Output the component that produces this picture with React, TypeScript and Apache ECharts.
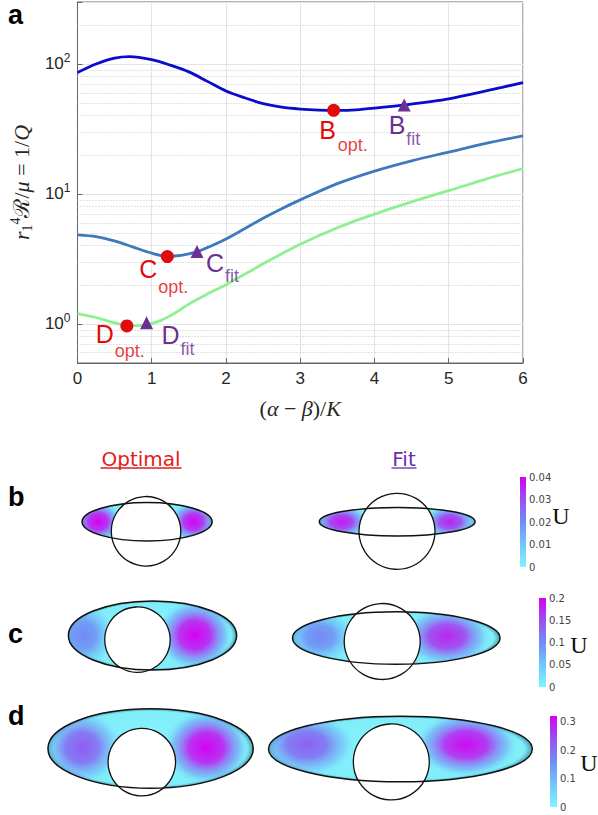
import React, { useEffect, useRef } from "react";
import * as echarts from "echarts";

// ---------------- panel a : data ----------------
const darkX = [0, 0.25, 0.5, 0.7, 1, 1.25, 1.5, 1.75, 2, 2.25, 2.5, 2.75, 3, 3.25, 3.5, 3.75, 4, 4.4, 5, 5.5, 6];
const darkY = [86, 100, 111, 114, 108, 98, 87, 73.5, 62, 55, 49.5, 46.5, 45, 44.2, 44, 44.4, 45.7, 48.4, 54, 62, 72];
const midX = [0, 0.25, 0.5, 0.75, 1, 1.2, 1.4, 1.6, 1.8, 2, 2.25, 2.5, 2.75, 3, 3.5, 4, 4.5, 5, 5.5, 6];
const midY = [4.85, 4.7, 4.35, 3.9, 3.5, 3.32, 3.37, 3.58, 3.98, 4.5, 5.4, 6.5, 7.7, 9, 12, 15, 18, 21, 24.5, 28];
const lightX = [0, 0.25, 0.5, 0.7, 0.9, 1.1, 1.3, 1.5, 1.75, 2, 2.5, 3, 3.5, 4, 4.5, 5, 5.5, 6];
const lightY = [1.2, 1.12, 1.02, 0.97, 0.98, 1.05, 1.2, 1.42, 1.7, 2.0, 2.9, 4.1, 5.5, 7.0, 8.7, 10.6, 13, 15.7];

const pointLetters = ["B", "C", "D"];
const optX = [3.45, 1.21, 0.665];
const optY = [44, 3.3, 0.965];
const fitX = [4.4, 1.61, 0.93];
const fitY = [48.4, 3.6, 1.02];
const optSub = "opt.";
const fitSub = "fit";
const minorGridValues = [0.6, 0.7, 0.8, 0.9, 2, 3, 4, 5, 6, 7, 8, 9, 20, 30, 40, 50, 60, 70, 80, 90, 200];

// ---------------- panels b-d : data (units of circle radius) ----------------
const rowLetters = ["b", "c", "d"];
const columnTitles = ["Optimal", "Fit"];
const circleRadius = 1;
// ellipse: [centerX, centerY, semiAxisX, semiAxisY]
const optEllipse = [
  [0.03, 0.25, 1.87, 0.505],
  [0.46, 0.11, 2.57, 0.91],
  [0.26, 0.41, 3.04, 1.2],
];
const fitEllipse = [
  [0.005, 0.253, 2.05, 0.376],
  [0.37, 0.09, 2.73, 0.69],
  [0.24, 0.39, 3.47, 0.99],
];
// lobes: [x, y, spreadX, spreadY, U / Umax]
const optLobes = [
  [[-1.38, 0.25, 0.7, 0.55, 1.0], [1.36, 0.25, 0.7, 0.55, 0.98]],
  [[-1.63, 0.12, 0.95, 0.9, 0.52], [1.75, 0.12, 1.2, 0.95, 1.0]],
  [[-1.77, 0.44, 1.2, 1.15, 0.7], [1.91, 0.44, 1.3, 1.15, 1.0]],
];
const fitLobes = [
  [[-1.46, 0.25, 0.75, 0.45, 0.92], [1.39, 0.25, 0.72, 0.45, 0.88]],
  [[-1.64, 0.13, 0.95, 0.75, 0.52], [1.7, 0.13, 1.2, 0.8, 0.88]],
  [[-2.22, 0.52, 1.3, 1.0, 0.68], [1.97, 0.52, 1.4, 1.0, 0.97]],
];
const colorbarMax = [0.04, 0.2, 0.32];
const colorbarStep = [0.01, 0.05, 0.1];

// ---------------- layout & styles ----------------
const S = 38; // px per unit in panels
const panelCenters = [
  [132.5, 531.3], [397, 531.3],
  [115.3, 639.7], [382.2, 641.5],
  [124, 770], [391.3, 769.7],
];
const colorbarBoxes = [
  [520, 477, 6, 90],
  [539, 598, 7, 89],
  [550, 716, 7, 91],
];
const uLabelPos = [[561, 516], [579, 645], [589, 763]];
const rowLetterPos = [[8, 497], [8, 634], [8, 716]];
const titlePos = [[141, 459], [404, 459]];
const titleHalfWidth = [40.5, 12.5];
const titleColors = ["#e21b1b", "#6a2fa6"];

const optLetterOffset = [[-6, 20], [-19, 12], [-22, 8]];
const optSubOffset = [[19, 35], [6, 30], [3, 25]];
const fitLetterOffset = [[-7, 20], [18, 11], [24, 12]];
const fitSubOffset = [[9, 34], [35, 24], [41, 26]];

const RED = "#e00b0b";
const PURPLE = "#6c2f93";
const SANS = '"Liberation Sans", Arial, sans-serif';
const SERIF = '"Liberation Serif", "DejaVu Serif", serif';

const cmapStops: [number, number[]][] = [
  [0, [128, 244, 255]],
  [0.25, [112, 200, 250]],
  [0.5, [112, 142, 244]],
  [0.75, [152, 80, 240]],
  [1, [214, 0, 242]],
];
function cmap(t: number): number[] {
  t = Math.max(0, Math.min(1, t));
  for (let i = 1; i < cmapStops.length; i++) {
    const [t1, c1] = cmapStops[i];
    const [t0, c0] = cmapStops[i - 1];
    if (t <= t1) {
      const f = (t - t0) / (t1 - t0);
      return c0.map((v, k) => Math.round(v + (c1[k] - v) * f));
    }
  }
  return cmapStops[cmapStops.length - 1][1];
}
const rgba = (c: number[], a: number) => `rgba(${c[0]},${c[1]},${c[2]},${a})`;

function makePanelRender(ell: number[], lobes: number[][]) {
  return (_params: any, api: any) => {
    const c = api.coord([0, 0]);
    const r = api.size([circleRadius, circleRadius])[0];
    const ec = api.coord([ell[0], ell[1]]);
    const es = api.size([ell[2], ell[3]]);
    const ellShape = { cx: ec[0], cy: ec[1], rx: es[0], ry: es[1] };
    const lobeEls = lobes.map((l) => {
      const p = api.coord([l[0], l[1]]);
      const s = api.size([l[2], l[3]]);
      const I = l[4];
      return {
        type: "ellipse",
        shape: { cx: p[0], cy: p[1], rx: s[0], ry: s[1] },
        style: {
          fill: {
            type: "radial", x: 0.5, y: 0.5, r: 0.5,
            colorStops: [
              { offset: 0, color: rgba(cmap(I), 1) },
              { offset: 0.4, color: rgba(cmap(I * 0.9), 0.9) },
              { offset: 0.75, color: rgba(cmap(I * 0.5), 0.5) },
              { offset: 1, color: rgba(cmap(0), 0) },
            ],
          },
        },
      };
    });
    return {
      type: "group",
      children: [
        {
          type: "ellipse",
          shape: ellShape,
          style: {
            fill: {
              type: "radial", x: 0.5, y: 0.5, r: 0.5,
              colorStops: [
                { offset: 0, color: "#86f2fc" },
                { offset: 0.94, color: "#80eef9" },
                { offset: 1, color: "#4a9fb2" },
              ],
            },
          },
        },
        {
          type: "group",
          clipPath: { type: "ellipse", shape: { ...ellShape } },
          children: lobeEls,
        },
        {
          type: "circle",
          shape: { cx: c[0], cy: c[1], r },
          style: { fill: "#ffffff", stroke: "#111", lineWidth: 1.3 },
        },
        {
          type: "ellipse",
          shape: ellShape,
          style: { fill: "none", stroke: "#111", lineWidth: 1.5 },
        },
      ],
    };
  };
}

function buildOption() {
  const grids: any[] = [
    { left: 73, top: 2, width: 450, height: 361, show: true, borderColor: "#666", borderWidth: 1, backgroundColor: "rgba(0,0,0,0)" },
  ];
  const xAxes: any[] = [
    {
      type: "value", gridIndex: 0, min: 0, max: 6, interval: 1,
      axisLine: { show: true, lineStyle: { color: "#666" } },
      axisTick: { show: true, inside: true, length: 5, lineStyle: { color: "#666" } },
      axisLabel: { fontSize: 17, fontFamily: SANS, color: "#262626", margin: 7 },
      splitLine: { show: true, lineStyle: { color: "#e4e4e4", width: 1 } },
      name: "{p|(}{i|α}{p| − }{i|β}{p|)/}{i|K}",
      nameLocation: "middle",
      nameGap: 34,
      nameTextStyle: {
        fontSize: 22, fontFamily: SERIF, color: "#262626",
        rich: {
          p: { fontSize: 22, fontFamily: SERIF, color: "#262626" },
          i: { fontSize: 22, fontFamily: SERIF, fontStyle: "italic", color: "#262626" },
        },
      },
    },
  ];
  const yAxes: any[] = [
    {
      type: "log", logBase: 10, gridIndex: 0, min: 0.5, max: 300,
      axisLine: { show: true, lineStyle: { color: "#666" } },
      axisTick: { show: true, inside: true, length: 5, lineStyle: { color: "#666" } },
      axisLabel: {
        margin: 7,
        formatter: (v: number) => {
          const k = Math.log10(v);
          if (Math.abs(k - Math.round(k)) > 1e-6) return "";
          return `{b|10}{s|${Math.round(k)}}`;
        },
        rich: {
          b: { fontSize: 17, fontFamily: SANS, color: "#262626", lineHeight: 20 },
          s: { fontSize: 12, fontFamily: SANS, color: "#262626", lineHeight: 12, padding: [0, 0, 12, 0] },
        },
      },
      splitLine: { show: true, lineStyle: { color: "#e4e4e4", width: 1 } },
      name: "{i|r}{sub|1}{sup|4}{n|ℛ/}{i|μ}{n| = 1/}{i|Q}",
      nameLocation: "middle",
      nameRotate: 90,
      nameGap: 40,
      nameTextStyle: {
        fontSize: 22, fontFamily: SERIF, color: "#262626",
        rich: {
          i: { fontSize: 22, fontFamily: SERIF, fontStyle: "italic", color: "#262626", lineHeight: 26 },
          n: { fontSize: 22, fontFamily: SERIF, color: "#262626", lineHeight: 26 },
          sub: { fontSize: 14, fontFamily: SERIF, color: "#262626", lineHeight: 14, padding: [12, 0, 0, 0] },
          sup: { fontSize: 14, fontFamily: SERIF, color: "#262626", lineHeight: 14, padding: [0, 0, 12, 0] },
        },
      },
    },
  ];

  const series: any[] = [
    {
      type: "line", xAxisIndex: 0, yAxisIndex: 0, smooth: 0.3, symbol: "none",
      data: darkX.map((x, i) => [x, darkY[i]]),
      lineStyle: { color: "#0b0bcc", width: 2.8 },
      markLine: {
        silent: true, symbol: "none", label: { show: false },
        lineStyle: { color: "#c4c4c4", width: 1, type: [1, 2] },
        data: minorGridValues.map((v) => ({ yAxis: v })),
        z: 1,
      },
      z: 3,
    },
    {
      type: "line", xAxisIndex: 0, yAxisIndex: 0, smooth: 0.3, symbol: "none",
      data: midX.map((x, i) => [x, midY[i]]),
      lineStyle: { color: "#3f79bd", width: 2.8 }, z: 3,
    },
    {
      type: "line", xAxisIndex: 0, yAxisIndex: 0, smooth: 0.3, symbol: "none",
      data: lightX.map((x, i) => [x, lightY[i]]),
      lineStyle: { color: "#8ff08f", width: 2.8 }, z: 3,
    },
    {
      type: "scatter", xAxisIndex: 0, yAxisIndex: 0, symbol: "circle", symbolSize: 13,
      itemStyle: { color: RED, opacity: 1 }, z: 5,
      label: { show: true, position: "inside", fontSize: 25, fontFamily: SANS, color: RED, align: "center", verticalAlign: "middle" },
      data: optX.map((x, i) => ({ value: [x, optY[i]], label: { formatter: pointLetters[i], offset: optLetterOffset[i] } })),
    },
    {
      type: "scatter", xAxisIndex: 0, yAxisIndex: 0, symbol: "triangle", symbolSize: 13,
      itemStyle: { color: PURPLE, opacity: 1 }, z: 5,
      label: { show: true, position: "inside", fontSize: 25, fontFamily: SANS, color: PURPLE, align: "center", verticalAlign: "middle" },
      data: fitX.map((x, i) => ({ value: [x, fitY[i]], label: { formatter: pointLetters[i], offset: fitLetterOffset[i] } })),
    },
    {
      type: "scatter", xAxisIndex: 0, yAxisIndex: 0, symbolSize: 1,
      itemStyle: { color: "rgba(0,0,0,0)" }, z: 5,
      label: { show: true, position: "inside", fontSize: 18, fontFamily: SANS, color: RED, align: "center", verticalAlign: "middle" },
      data: optX.map((x, i) => ({ value: [x, optY[i]], label: { formatter: optSub, offset: optSubOffset[i] } })),
    },
    {
      type: "scatter", xAxisIndex: 0, yAxisIndex: 0, symbolSize: 1,
      itemStyle: { color: "rgba(0,0,0,0)" }, z: 5,
      label: { show: true, position: "inside", fontSize: 18, fontFamily: SANS, color: PURPLE, align: "center", verticalAlign: "middle" },
      data: fitX.map((x, i) => ({ value: [x, fitY[i]], label: { formatter: fitSub, offset: fitSubOffset[i] } })),
    },
  ];

  // panels b-d
  for (let row = 0; row < 3; row++) {
    for (let col = 0; col < 2; col++) {
      const k = row * 2 + col;
      const [cx, cy] = panelCenters[k];
      grids.push({ left: cx - 4.2 * S, top: cy - 1.6 * S, width: 8.4 * S, height: 3.2 * S, show: false });
      const gi = grids.length - 1;
      xAxes.push({ type: "value", gridIndex: gi, min: -4.2, max: 4.2, show: false });
      yAxes.push({ type: "value", gridIndex: gi, min: -1.6, max: 1.6, show: false });
      const ell = col === 0 ? optEllipse[row] : fitEllipse[row];
      const lobes = col === 0 ? optLobes[row] : fitLobes[row];
      series.push({
        type: "custom", xAxisIndex: gi, yAxisIndex: gi, silent: true, clip: false,
        data: [[0, 0]],
        renderItem: makePanelRender(ell, lobes),
      });
    }
  }

  // colorbars
  for (let j = 0; j < 3; j++) {
    const [l, t, w, h] = colorbarBoxes[j];
    grids.push({ left: l, top: t, width: w, height: h, show: false });
    const gi = grids.length - 1;
    const step = colorbarStep[j];
    xAxes.push({ type: "category", gridIndex: gi, data: [""], show: false });
    yAxes.push({
      type: "value", gridIndex: gi, min: 0, max: colorbarMax[j], interval: step, position: "right",
      axisLine: { show: false }, axisTick: { show: false }, splitLine: { show: false },
      axisLabel: {
        show: true, margin: 3, fontSize: 10, fontFamily: '"DejaVu Sans", sans-serif', color: "#444",
        formatter: (v: number) => (Math.abs(v / step - Math.round(v / step)) < 1e-6 ? String(+v.toFixed(3)) : ""),
      },
    });
    series.push({
      type: "bar", xAxisIndex: gi, yAxisIndex: gi, silent: true, barWidth: "100%",
      data: [colorbarMax[j]],
      itemStyle: {
        color: {
          type: "linear", x: 0, y: 1, x2: 0, y2: 0,
          colorStops: cmapStops.map(([o, c]) => ({ offset: o, color: rgba(c, 1) })),
        },
      },
    });
  }

  const graphics: any[] = [
    { type: "text", x: 8, y: 15, style: { text: "a", font: `bold 27px ${SANS}`, fill: "#000", verticalAlign: "middle" } },
  ];
  rowLetters.forEach((t, i) => {
    graphics.push({ type: "text", x: rowLetterPos[i][0], y: rowLetterPos[i][1], style: { text: t, font: `bold 27px ${SANS}`, fill: "#000", verticalAlign: "middle" } });
    graphics.push({ type: "text", x: uLabelPos[i][0], y: uLabelPos[i][1], style: { text: "U", font: `24px ${SERIF}`, fill: "#111", align: "center", verticalAlign: "middle" } });
  });
  columnTitles.forEach((t, i) => {
    const [x, y] = titlePos[i];
    graphics.push({ type: "text", x, y, style: { text: t, font: `20px "DejaVu Sans", sans-serif`, fill: titleColors[i], align: "center", verticalAlign: "middle" } });
    graphics.push({ type: "line", shape: { x1: x - titleHalfWidth[i], y1: y + 9, x2: x + titleHalfWidth[i], y2: y + 9 }, style: { stroke: titleColors[i], lineWidth: 1.3 } });
  });

  return {
    animation: false,
    backgroundColor: "#ffffff",
    grid: grids,
    xAxis: xAxes,
    yAxis: yAxes,
    series,
    graphic: graphics,
  };
}

export default function App() {
  const ref = useRef<HTMLDivElement>(null);
  useEffect(() => {
    document.body.style.margin = "0";
    if (!ref.current) return;
    const chart = echarts.init(ref.current, undefined, { renderer: "svg" });
    chart.setOption(buildOption() as any);
    return () => chart.dispose();
  }, []);
  return <div ref={ref} style={{ width: 598, height: 815 }} />;
}
